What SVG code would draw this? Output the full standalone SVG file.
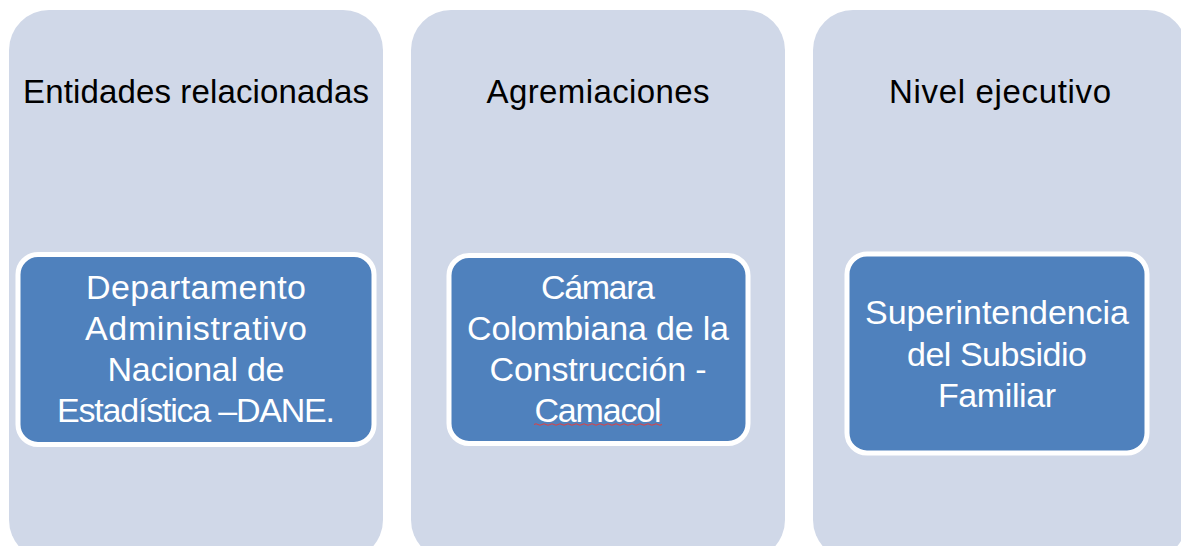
<svg xmlns="http://www.w3.org/2000/svg" width="1181" height="546" viewBox="0 0 1181 546">
<style>
.panel{fill:#D0D8E8;stroke:none}
.box{fill:#4F81BD;stroke:#FFFFFF;stroke-width:5}
.hdr{font-family:"Liberation Sans","Open Sans",Arial,sans-serif;font-size:33px;fill:#000000;text-anchor:middle}
.lbl{font-family:"Liberation Sans","Open Sans",Arial,sans-serif;font-size:34px;fill:#FFFFFF;text-anchor:middle}
</style>
<rect width="1181" height="546" fill="#FFFFFF"/>
<g id="panel-entidades">
<rect class="panel" x="9" y="10" width="374" height="550" rx="40" ry="40"/>
<text class="hdr" x="196" y="103" textLength="346">Entidades relacionadas</text>
</g>
<g id="panel-agremiaciones">
<rect class="panel" x="411" y="10" width="374" height="550" rx="40" ry="40"/>
<text class="hdr" x="598" y="103" textLength="223">Agremiaciones</text>
</g>
<g id="panel-nivel">
<rect class="panel" x="813" y="10" width="374" height="550" rx="40" ry="40"/>
<text class="hdr" x="1000" y="103" textLength="222">Nivel ejecutivo</text>
</g>
<g id="node-dane">
<rect class="box" x="18" y="254.5" width="356" height="190" rx="20" ry="20"/>
<text class="lbl" x="196" y="299" textLength="220">Departamento</text>
<text class="lbl" x="196" y="340" textLength="222">Administrativo</text>
<text class="lbl" x="196" y="381" textLength="177">Nacional de</text>
<text class="lbl" x="196" y="422" textLength="278">Estadística –DANE.</text>
</g>
<g id="node-camacol">
<rect class="box" x="449" y="255.5" width="299" height="188" rx="20" ry="20"/>
<text class="lbl" x="598" y="299" textLength="114">Cámara</text>
<text class="lbl" x="598" y="340" textLength="262">Colombiana de la</text>
<text class="lbl" x="598" y="381" textLength="217">Construcción -</text>
<text class="lbl" x="598" y="422" textLength="127">Camacol</text>
<path d="M534 424.5 q2 -1.5 4 0 t4 0 t4 0 t4 0 t4 0 t4 0 t4 0 t4 0 t4 0 t4 0 t4 0 t4 0 t4 0 t4 0 t4 0 t4 0 t4 0 t4 0 t4 0 t4 0 t4 0 t4 0 t4 0 t4 0 t4 0 t4 0 t4 0 t4 0 t4 0 t4 0 t4 0 t4 0" fill="none" stroke="#E04040" stroke-width="1"/>
</g>
<g id="node-superintendencia">
<rect class="box" x="847" y="254" width="300" height="199" rx="20" ry="20"/>
<text class="lbl" x="997" y="324" textLength="264">Superintendencia</text>
<text class="lbl" x="997" y="365.5" textLength="180">del Subsidio</text>
<text class="lbl" x="997" y="407" textLength="118">Familiar</text>
</g>
<g id="connectors"></g>
</svg>
